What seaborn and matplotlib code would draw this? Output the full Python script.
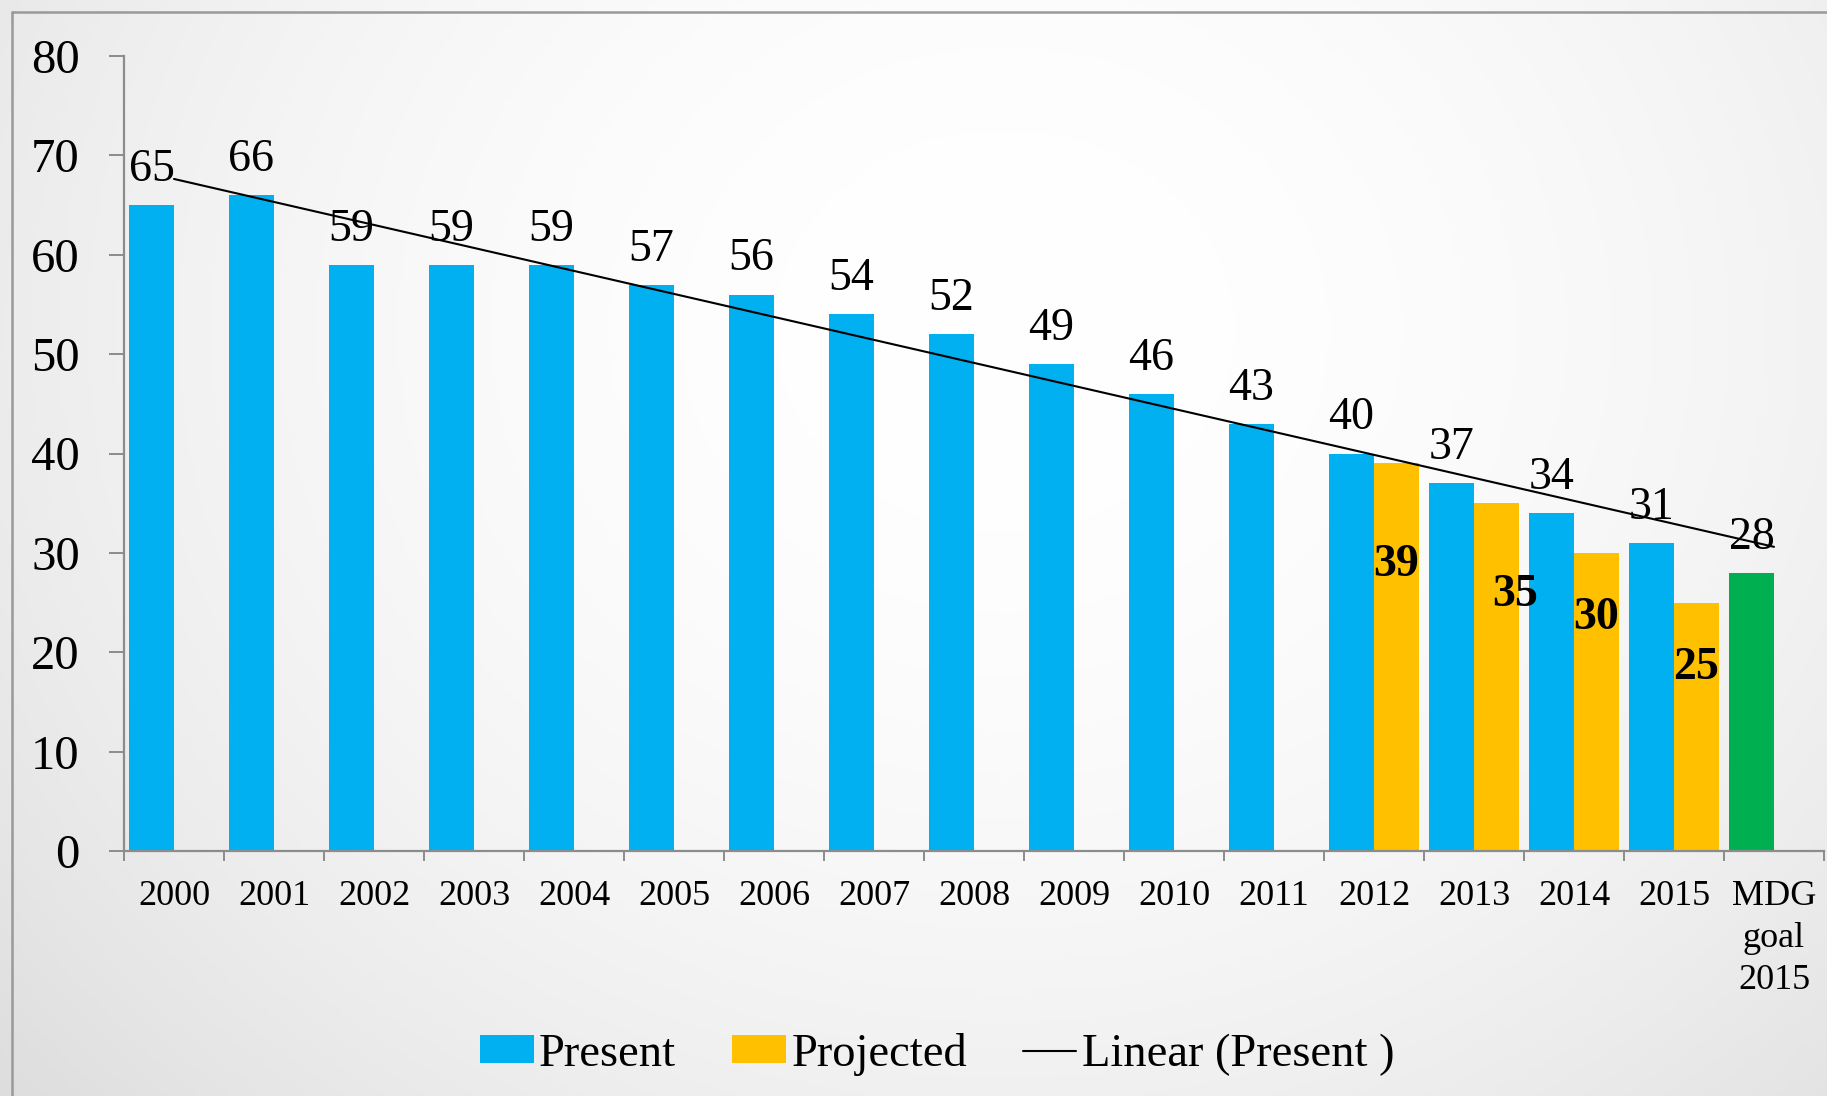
import numpy as np
import pandas as pd
import matplotlib.pyplot as plt
import seaborn as sns
from matplotlib.lines import Line2D
from matplotlib.patches import Patch

# ---- data ----
categories = ["2000", "2001", "2002", "2003", "2004", "2005", "2006", "2007", "2008",
              "2009", "2010", "2011", "2012", "2013", "2014", "2015", "MDG\ngoal\n2015"]
present = [65, 66, 59, 59, 59, 57, 56, 54, 52, 49, 46, 43, 40, 37, 34, 31, 28]
projected = [np.nan] * 12 + [39, 35, 30, 25] + [np.nan]
series = ["Present", "Projected"]

# label placement for the projected values (data units), as on the original slide
proj_label_y = [28.8, 25.8, 23.4, 18.4]
proj_label_dx = [0.0, 0.19, 0.0, 0.0]

BLUE = "#00B0F0"
GOLD = "#FFC000"
GREEN = "#00B050"
GRID_GRAY = "#8C8C8C"

df = pd.DataFrame({
    "category": categories * 2,
    "series": ["Present"] * len(categories) + ["Projected"] * len(categories),
    "value": present + projected,
})

sns.set_style("white")
plt.rcParams["font.family"] = ["Liberation Serif", "DejaVu Serif"]
plt.rcParams["text.color"] = "black"
plt.rcParams["xtick.labelcolor"] = "black"
plt.rcParams["ytick.labelcolor"] = "black"

W, H = 1827, 1096
fig = plt.figure(figsize=(W / 100, H / 100), dpi=100)

# ---- background gradient ----
bg = fig.add_axes([0, 0, 1, 1], zorder=-10)
yy, xx = np.mgrid[0:1:300j, 0:1:500j]
d2 = ((xx - 0.55) / 0.55) ** 2 + ((yy - 0.3) / 0.8) ** 2
shade = np.clip(1.0 - 0.075 * d2, 0, 1)
bg.imshow(np.dstack([shade] * 3), aspect="auto", extent=[0, 1, 0, 1], origin="upper")
bg.set_axis_off()

# frame lines (top and left)
fx, fy = 12 / W, 1 - 12 / H
fig.add_artist(Line2D([fx, 1], [fy, fy], color="#999999", lw=1.8, transform=fig.transFigure))
fig.add_artist(Line2D([fx, fx], [0, fy], color="#999999", lw=1.8, transform=fig.transFigure))

# ---- main chart ----
ax = fig.add_axes([124 / W, 245 / H, 1700 / W, 795 / H])
ax.set_facecolor("none")

sns.barplot(data=df, x="category", y="value", hue="series", order=categories,
            hue_order=series, palette=[BLUE, GOLD], width=0.9, errorbar=None,
            saturation=1, ax=ax, linewidth=0)

# MDG goal bar in green
for bar in ax.containers[0]:
    cx = bar.get_x() + bar.get_width() / 2
    if abs(cx - (len(categories) - 1 - 0.225)) < 0.05:
        bar.set_facecolor(GREEN)

# linear trendline of Present series
xs = np.arange(len(present))
slope, icpt = np.polyfit(xs, present, 1)
ax.plot([xs[0], xs[-1]], [icpt, icpt + slope * xs[-1]], color="black", lw=1.5, zorder=5)

# labels for Present values
for i, v in enumerate(present):
    ax.annotate(str(v), (i - 0.225, v), xytext=(0, 17.3), textcoords="offset points",
                ha="center", va="baseline", fontsize=33, color="black", zorder=6)

# bold labels for projected values
proj_idx = [i for i, v in enumerate(projected) if not np.isnan(v)]
for k, i in enumerate(proj_idx):
    ax.text(i + 0.225 + proj_label_dx[k], proj_label_y[k], str(int(projected[i])),
            ha="center", va="center", fontsize=33, fontweight="bold", color="black",
            zorder=6)

ax.set_xlim(-0.5, len(categories) - 0.5)
ax.set_ylim(0, 80)
ax.set_yticks(range(0, 81, 10))
ax.set_xlabel("")
ax.set_ylabel("")

sns.despine(ax=ax, top=True, right=True)
for side in ["left", "bottom"]:
    ax.spines[side].set_color(GRID_GRAY)
    ax.spines[side].set_linewidth(1.6)

ax.tick_params(axis="y", length=10.8, width=1.4, color=GRID_GRAY, pad=21,
               labelsize=35, labelcolor="black", direction="out", left=True)
ax.set_xticks(range(len(categories)))
ax.set_xticklabels(categories, linespacing=1.35)
ax.set_xticks(np.arange(-0.5, len(categories)), minor=True)
ax.tick_params(axis="x", which="major", length=0, pad=21, labelsize=26,
               labelcolor="black")
ax.tick_params(axis="x", which="minor", length=7.2, width=1.4, color=GRID_GRAY,
               direction="out", bottom=True)
ax.spines["bottom"].set_clip_on(False)

# ---- legend ----
if ax.get_legend() is not None:
    ax.get_legend().remove()
handles = [Patch(facecolor=BLUE, edgecolor="none"),
           Patch(facecolor=GOLD, edgecolor="none"),
           Line2D([], [], color="black", lw=1.5)]
labels = ["Present", "Projected", "Linear (Present )"]
fig.legend(handles, labels, loc="center", bbox_to_anchor=(0.513, 0.038), ncol=3,
           frameon=False, fontsize=33.5, handlelength=1.15, handleheight=0.55,
           handletextpad=0.12, columnspacing=1.2, labelcolor="black")

fig.savefig("out.png", dpi=100)
